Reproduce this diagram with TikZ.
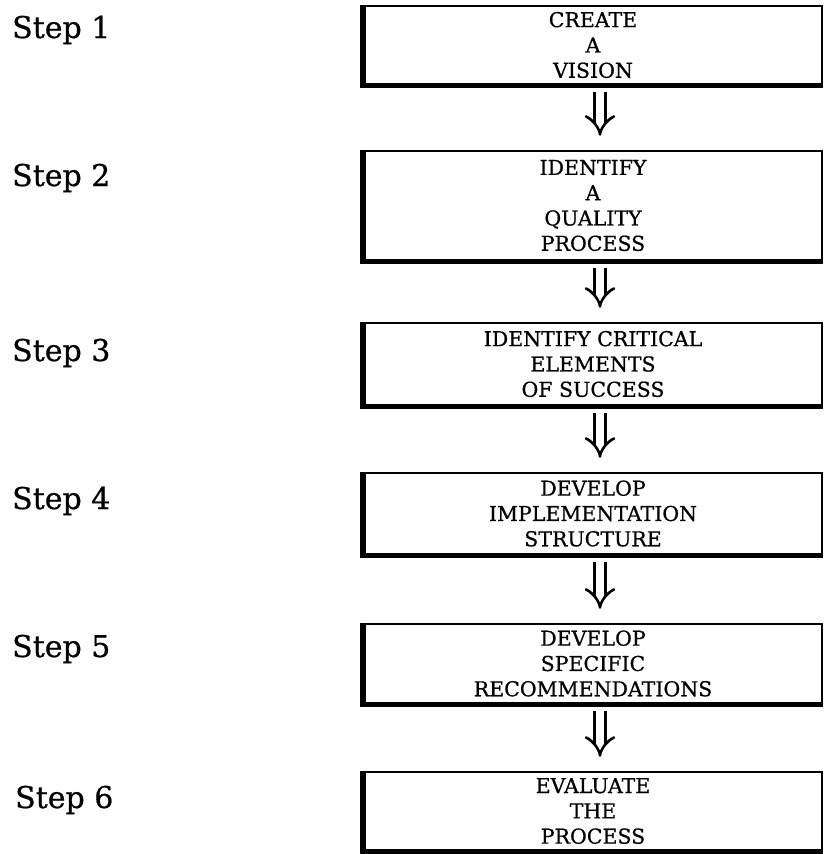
\documentclass[tikz,border=0pt]{standalone}
\usepackage{fontspec}
\setmainfont{DejaVu Serif}[FakeBold=0.7]
\usetikzlibrary{arrows.meta}

\tikzset{
  stepbox/.style={draw, line width=2.5pt, minimum width=458pt, inner sep=0pt,
    align=center, font=\fontsize{20.5}{25.3}\selectfont},
  steplabel/.style={anchor=base west, inner sep=0pt, font=\fontsize{30}{34}\selectfont},
  heavyedge/.style={line width=5.5pt},
  flowarrow/.style={double, double distance=8pt, line width=2.6pt,
    -{Implies[length=9pt, width=20pt]}, shorten <=7pt, shorten >=14pt}
}

\begin{document}
\begin{tikzpicture}[x=1pt, y=-1pt]
  \useasboundingbox (0,0) rectangle (825,854);

  % process boxes
  \node[stepbox, minimum height=78pt]  (b1) at (593,45)    {CREATE\\A\\VISION};
  \node[stepbox, minimum height=109pt] (b2) at (593,205.5) {IDENTIFY\\A\\QUALITY\\PROCESS};
  \node[stepbox, minimum height=82pt]  (b3) at (593,364)   {IDENTIFY CRITICAL\\ELEMENTS\\OF SUCCESS};
  \node[stepbox, minimum height=81pt]  (b4) at (593,513.5) {DEVELOP\\IMPLEMENTATION\\STRUCTURE};
  \node[stepbox, minimum height=79pt]  (b5) at (593,663.5) {DEVELOP\\SPECIFIC\\RECOMMENDATIONS};
  \node[stepbox, minimum height=78pt]  (b6) at (593,811)   {EVALUATE\\THE\\PROCESS};

  % heavy left and bottom edges of each box
  \foreach \b in {b1,b2,b3,b4,b5,b6}
    \draw[heavyedge] (\b.north west) |- (\b.south east);

  % step labels
  \node[steplabel] (s1) at (12,38)  {Step 1};
  \node[steplabel] (s2) at (12,186) {Step 2};
  \node[steplabel] (s3) at (12,361) {Step 3};
  \node[steplabel] (s4) at (12,509) {Step 4};
  \node[steplabel] (s5) at (12,657) {Step 5};
  \node[steplabel] (s6) at (15,808) {Step 6};

  % double arrows between consecutive steps
  \foreach \a/\c in {b1/b2,b2/b3,b3/b4,b4/b5,b5/b6}
    \draw[flowarrow] ([xshift=7pt]\a.south) -- ([xshift=7pt]\c.north);
\end{tikzpicture}
\end{document}
